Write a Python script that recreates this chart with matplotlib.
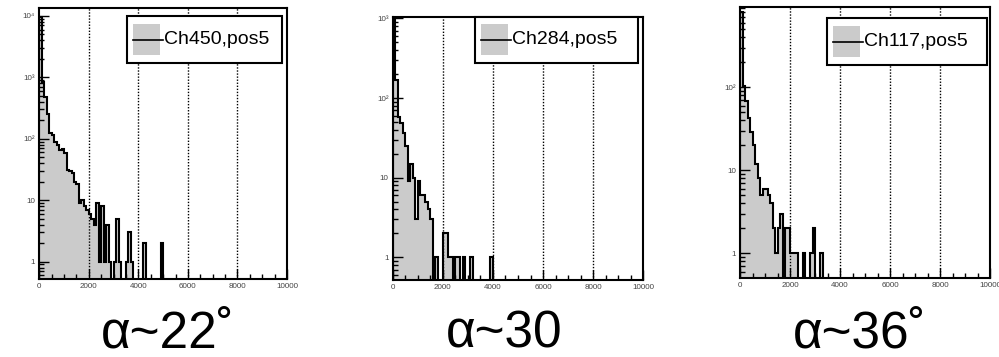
import numpy as np
import matplotlib
matplotlib.use("Agg")
import matplotlib.pyplot as plt
from matplotlib.patches import Rectangle
from matplotlib.lines import Line2D
from matplotlib.ticker import FixedLocator, LogLocator, FuncFormatter, NullFormatter

plt.rcParams['font.family'] = ['Liberation Sans', 'DejaVu Sans']

# counts per 100-wide bin, starting at 0 (remaining bins up to 10000 are empty)
ch450 = [9500, 850, 480, 250, 125, 115, 90, 80, 65, 68,
         58, 31, 30, 28, 20, 18, 9, 10, 8, 7,
         6, 5, 4, 9, 1, 8, 1, 4, 1, 0,
         1, 5, 1, 0, 0, 1, 3, 1, 0, 0,
         0, 0, 2, 0, 0, 0, 0, 0, 0, 2]
ch284 = [1000, 170, 58, 48, 36, 25, 9, 15, 10, 3,
         9, 6, 6, 5, 4, 3, 0, 1, 0, 0,
         2, 2, 1, 1, 0, 1, 1, 0, 1, 0,
         0, 1, 0, 0, 0, 0, 0, 0, 0, 1]
ch117 = [800, 105, 68, 43, 29, 20, 12, 8, 5, 6,
         6, 5, 4, 2, 1, 2, 3, 0, 2, 2,
         1, 1, 1, 0, 0, 1, 0, 0, 1, 2,
         0, 0, 1]

names = ['Ch450,pos5', 'Ch284,pos5', 'Ch117,pos5']
angles = ['α~22˚', 'α~30', 'α~36˚']
series = [ch450, ch284, ch117]
ylims = [(0.52, 13300), (0.52, 1050), (0.51, 935)]

edges = np.arange(0, 10001, 100)

W, H = 999, 357
fig = plt.figure(figsize=(W / 100, H / 100), dpi=100)

# axes boxes in pixels: left, top, right, bottom
boxes = [(39.3, 8.3, 287, 279), (392.7, 16.7, 643.3, 280), (740, 6.7, 990, 277.7)]
legends = [(127, 16, 282, 63), (475, 17, 638, 63), (827, 18, 987, 65)]
title_x = [101, 446, 793]


def px_rect(l, t, r, b):
    return [l / W, 1 - b / H, (r - l) / W, (b - t) / H]


def ylab(v, pos):
    e = int(round(np.log10(v)))
    if e == 0:
        return '1'
    if e == 1:
        return '10'
    sup = {2: '²', 3: '³', 4: '⁴'}
    return '10' + sup.get(e, str(e))


for i in range(3):
    ax = fig.add_axes(px_rect(*boxes[i]))
    vals = np.zeros(100)
    vals[:len(series[i])] = series[i]
    low = 1e-3
    pv = np.where(vals > 0, vals, low)
    ax.stairs(pv, edges, baseline=low, fill=True, facecolor='#cbcbcb', edgecolor='none')
    ax.stairs(pv, edges, baseline=low, color='black', lw=1.5)
    ax.set_yscale('log')
    ax.set_ylim(*ylims[i])
    ax.set_xlim(0, 10000)
    for gx in [2000, 4000, 6000, 8000]:
        ax.axvline(gx, color='black', lw=1.0, ls=(0, (1, 1.2)))
    ax.xaxis.set_major_locator(FixedLocator([0, 2000, 4000, 6000, 8000, 10000]))
    ax.xaxis.set_minor_locator(FixedLocator(np.arange(0, 10001, 500)))
    ax.yaxis.set_major_locator(LogLocator(base=10))
    ax.yaxis.set_minor_locator(LogLocator(base=10, subs=np.arange(2, 10)))
    ax.yaxis.set_major_formatter(FuncFormatter(ylab))
    ax.yaxis.set_minor_formatter(NullFormatter())
    ax.tick_params(which='both', direction='in', top=False, right=False,
                   labelsize=5.8, labelcolor='#444444', width=1.0)
    ax.tick_params(which='major', length=7, pad=3)
    ax.tick_params(which='minor', length=3.5)
    for s in ax.spines.values():
        s.set_linewidth(1.5)

    # legend box drawn as in the original (gray swatch crossed by a line)
    l, t, r, b = legends[i]
    fig.add_artist(Rectangle((l / W, 1 - b / H), (r - l) / W, (b - t) / H,
                             transform=fig.transFigure, facecolor='white',
                             edgecolor='black', lw=1.5, zorder=5))
    fig.add_artist(Rectangle(((l + 6) / W, 1 - (b - 8) / H), 27 / W, 31 / H,
                             transform=fig.transFigure, facecolor='#cbcbcb',
                             edgecolor='none', zorder=6))
    ym = 1 - ((t + b) / 2) / H
    fig.add_artist(Line2D([(l + 6) / W, (l + 36) / W], [ym, ym],
                          transform=fig.transFigure, color='black', lw=1.2, zorder=7))
    fig.text((l + 37) / W, ym, names[i], fontsize=14, va='center', ha='left', zorder=8)

    fig.text(title_x[i] / W, 1 - 347 / H, angles[i], fontsize=37,
             ha='left', va='baseline')

fig.savefig('out.png', dpi=100)
